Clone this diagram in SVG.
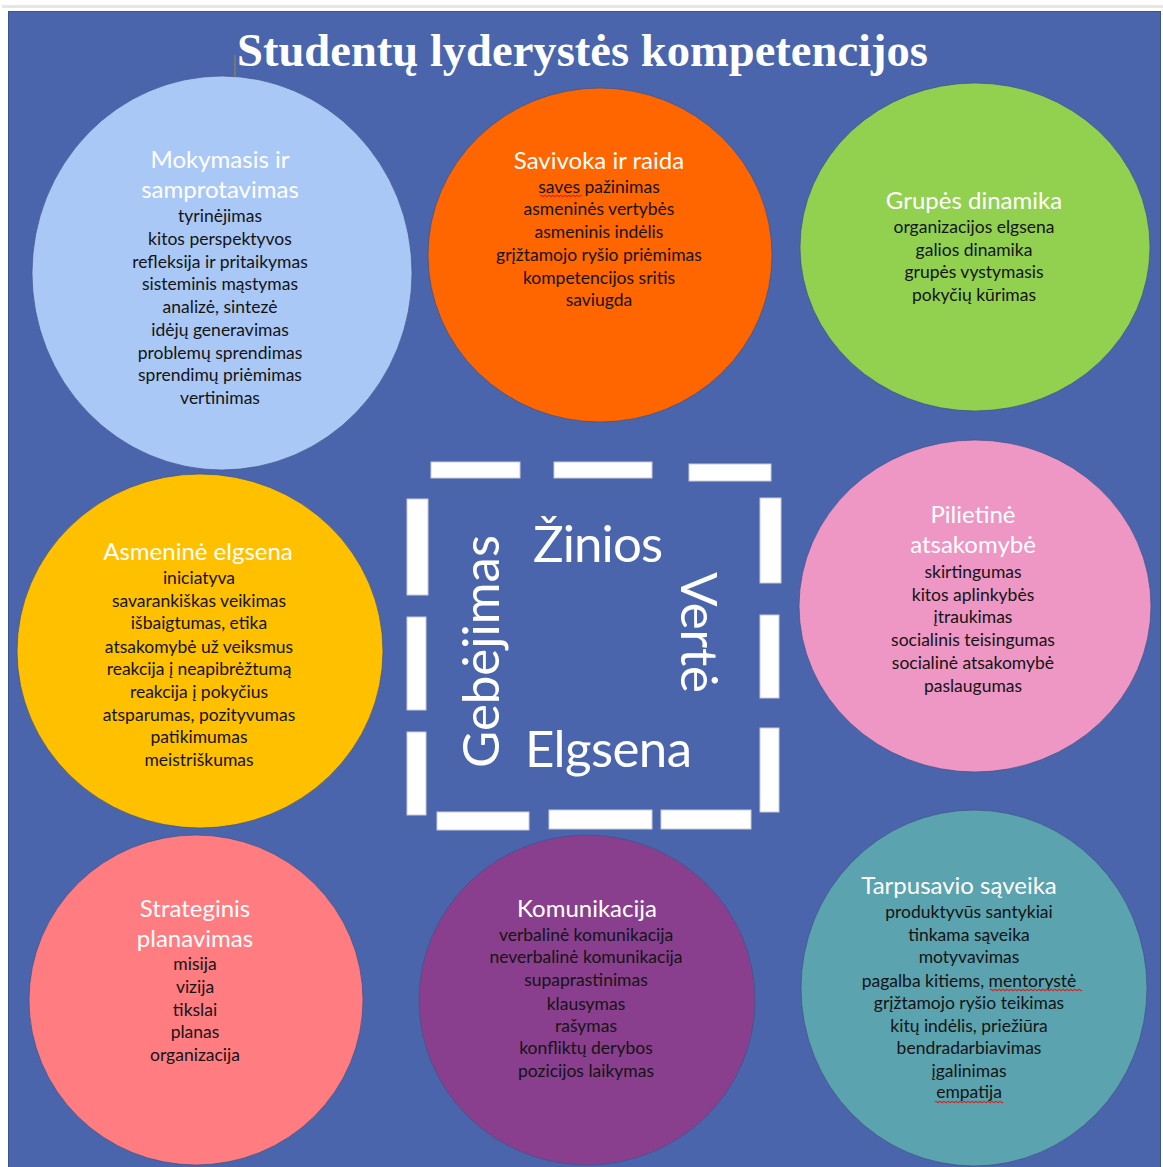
<svg xmlns="http://www.w3.org/2000/svg" width="1163" height="1167" viewBox="0 0 1163 1167">
<style>
.bg{fill:#4A65AC;stroke:#3c5290;stroke-width:1}
.c{stroke:#3e5288;stroke-width:1;stroke-opacity:0.7}
.h{font-family:Lato,"Open Sans","DejaVu Sans",sans-serif;font-size:24px;fill:#ffffff;text-anchor:middle}
.b{font-family:Lato,"Open Sans","DejaVu Sans",sans-serif;font-size:17.5px;fill:#141414;text-anchor:middle}
.big{font-family:Lato,"Open Sans","DejaVu Sans",sans-serif;font-size:51px;fill:#ffffff}
.dash{fill:#ffffff;stroke:#c9cbd3;stroke-width:1}
.sq{fill:none;stroke:#e0201a;stroke-width:1.2}
.title{font-family:"Liberation Serif","Times New Roman",serif;font-weight:bold;font-size:47px;fill:#ffffff;text-anchor:middle}
</style>
<rect x="0" y="0" width="1163" height="1167" fill="#ffffff"/>
<rect x="2" y="5" width="1161" height="3" fill="#e6e6e6"/>
<rect class="bg" x="8.5" y="11.5" width="1152" height="1160"/>
<g id="title">
<text class="title" x="582.5" y="66" textLength="691" lengthAdjust="spacingAndGlyphs">Studentų lyderystės kompetencijos</text>
<line x1="235" y1="55" x2="235" y2="82" stroke="#8a7b5c" stroke-width="1.5"/>
</g>
<g id="connectors"></g>
<g id="mokymasis">
<ellipse class="c" cx="222" cy="273" rx="190" ry="197" fill="#AAC8F5"/>
<text class="h"><tspan x="220" y="168">Mokymasis ir</tspan><tspan x="220" y="198">samprotavimas</tspan></text>
<text class="b"><tspan x="220" y="222">tyrinėjimas</tspan><tspan x="220" y="245">kitos perspektyvos</tspan><tspan x="220" y="268">refleksija ir pritaikymas</tspan><tspan x="220" y="290">sisteminis mąstymas</tspan><tspan x="220" y="313">analizė, sintezė</tspan><tspan x="220" y="336">idėjų generavimas</tspan><tspan x="220" y="359">problemų sprendimas</tspan><tspan x="220" y="381">sprendimų priėmimas</tspan><tspan x="220" y="404">vertinimas</tspan></text>
</g>
<g id="savivoka">
<ellipse class="c" cx="600" cy="255" rx="172" ry="167" fill="#FF6600"/>
<text class="h"><tspan x="599" y="169">Savivoka ir raida</tspan></text>
<text class="b"><tspan x="599" y="193">saves pažinimas</tspan><tspan x="599" y="215">asmeninės vertybės</tspan><tspan x="599" y="238">asmeninis indėlis</tspan><tspan x="599" y="261">grįžtamojo ryšio priėmimas</tspan><tspan x="599" y="284">kompetencijos sritis</tspan><tspan x="599" y="306">saviugda</tspan></text>
<path class="sq" d="M540,196 q1,-1.5 2,0 t2,0 t2,0 t2,0 t2,0 t2,0 t2,0 t2,0 t2,0 t2,0 t2,0 t2,0 t2,0 t2,0 t2,0 t2,0 t2,0 t2,0 t2,0 t2,0 t2,0"/>
</g>
<g id="grupes">
<ellipse class="c" cx="975" cy="247" rx="175" ry="164" fill="#92D050"/>
<text class="h"><tspan x="974" y="209">Grupės dinamika</tspan></text>
<text class="b"><tspan x="974" y="233">organizacijos elgsena</tspan><tspan x="974" y="256">galios dinamika</tspan><tspan x="974" y="278">grupės vystymasis</tspan><tspan x="974" y="301">pokyčių kūrimas</tspan></text>
</g>
<g id="asmenine">
<ellipse class="c" cx="200" cy="651" rx="183" ry="177" fill="#FFC000"/>
<text class="h"><tspan x="198" y="560">Asmeninė elgsena</tspan></text>
<text class="b"><tspan x="199" y="584">iniciatyva</tspan><tspan x="199" y="607">savarankiškas veikimas</tspan><tspan x="199" y="629">išbaigtumas, etika</tspan><tspan x="199" y="653">atsakomybė už veiksmus</tspan><tspan x="199" y="675">reakcija į neapibrėžtumą</tspan><tspan x="199" y="698">reakcija į pokyčius</tspan><tspan x="199" y="721">atsparumas, pozityvumas</tspan><tspan x="199" y="743">patikimumas</tspan><tspan x="199" y="766">meistriškumas</tspan></text>
</g>
<g id="center">
<rect class="dash" x="431" y="462" width="89" height="16"/>
<rect class="dash" x="554" y="462" width="98" height="16"/>
<rect class="dash" x="689" y="464" width="82" height="17"/>
<rect class="dash" x="407" y="499" width="21" height="96"/>
<rect class="dash" x="407" y="617" width="19" height="93"/>
<rect class="dash" x="407" y="732" width="19" height="83"/>
<rect class="dash" x="760" y="498" width="21" height="85"/>
<rect class="dash" x="760" y="615" width="19" height="83"/>
<rect class="dash" x="760" y="728" width="19" height="84"/>
<rect class="dash" x="437" y="812" width="92" height="18"/>
<rect class="dash" x="549" y="810" width="103" height="19"/>
<rect class="dash" x="661" y="810" width="90" height="19"/>
<text class="big" x="533" y="562" textLength="130">Žinios</text>
<text class="big" x="525" y="767" textLength="167">Elgsena</text>
<text class="big" transform="translate(499,768) rotate(-90)" x="0" y="0" textLength="233">Gebėjimas</text>
<text class="big" transform="translate(681,572) rotate(90)" x="0" y="0" textLength="121">Vertė</text>
</g>
<g id="pilietine">
<ellipse class="c" cx="975" cy="606" rx="176" ry="166" fill="#EE96C4"/>
<text class="h"><tspan x="973" y="523">Pilietinė</tspan><tspan x="973" y="553">atsakomybė</tspan></text>
<text class="b"><tspan x="973" y="578">skirtingumas</tspan><tspan x="973" y="601">kitos aplinkybės</tspan><tspan x="973" y="623">įtraukimas</tspan><tspan x="973" y="646">socialinis teisingumas</tspan><tspan x="973" y="669">socialinė atsakomybė</tspan><tspan x="973" y="692">paslaugumas</tspan></text>
</g>
<g id="strateginis">
<ellipse class="c" cx="196" cy="1000" rx="167" ry="165" fill="#FF7C80"/>
<text class="h"><tspan x="195" y="917">Strateginis</tspan><tspan x="195" y="947">planavimas</tspan></text>
<text class="b"><tspan x="195" y="970">misija</tspan><tspan x="195" y="993">vizija</tspan><tspan x="195" y="1016">tikslai</tspan><tspan x="195" y="1038">planas</tspan><tspan x="195" y="1061">organizacija</tspan></text>
</g>
<g id="komunikacija">
<ellipse class="c" cx="587" cy="1000" rx="168" ry="165" fill="#893F8E"/>
<text class="h"><tspan x="587" y="917">Komunikacija</tspan></text>
<text class="b"><tspan x="586" y="941">verbalinė komunikacija</tspan><tspan x="586" y="963">neverbalinė komunikacija</tspan><tspan x="586" y="986">supaprastinimas</tspan><tspan x="586" y="1010">klausymas</tspan><tspan x="586" y="1032">rašymas</tspan><tspan x="586" y="1054">konfliktų derybos</tspan><tspan x="586" y="1077">pozicijos laikymas</tspan></text>
</g>
<g id="tarpusavio">
<ellipse class="c" cx="974" cy="988" rx="173" ry="178" fill="#5BA3AF"/>
<text class="h"><tspan x="959" y="894">Tarpusavio sąveika</tspan></text>
<text class="b"><tspan x="969" y="918">produktyvūs santykiai</tspan><tspan x="969" y="941">tinkama sąveika</tspan><tspan x="969" y="963">motyvavimas</tspan><tspan x="969" y="987">pagalba kitiems, mentorystė</tspan><tspan x="969" y="1009">grįžtamojo ryšio teikimas</tspan><tspan x="969" y="1032">kitų indėlis, priežiūra</tspan><tspan x="969" y="1054">bendradarbiavimas</tspan><tspan x="969" y="1077">įgalinimas</tspan><tspan x="969" y="1098">empatija</tspan></text>
<path class="sq" d="M990,990 q1,-1.5 2,0 t2,0 t2,0 t2,0 t2,0 t2,0 t2,0 t2,0 t2,0 t2,0 t2,0 t2,0 t2,0 t2,0 t2,0 t2,0 t2,0 t2,0 t2,0 t2,0 t2,0 t2,0 t2,0 t2,0 t2,0 t2,0 t2,0 t2,0 t2,0 t2,0 t2,0 t2,0 t2,0 t2,0 t2,0 t2,0 t2,0 t2,0 t2,0 t2,0 t2,0 t2,0 t2,0 t2,0 t2,0 t2,0"/>
<path class="sq" d="M935,1102 q1,-1.5 2,0 t2,0 t2,0 t2,0 t2,0 t2,0 t2,0 t2,0 t2,0 t2,0 t2,0 t2,0 t2,0 t2,0 t2,0 t2,0 t2,0 t2,0 t2,0 t2,0 t2,0 t2,0 t2,0 t2,0 t2,0 t2,0 t2,0 t2,0 t2,0 t2,0 t2,0 t2,0 t2,0 t2,0"/>
</g>
</svg>
